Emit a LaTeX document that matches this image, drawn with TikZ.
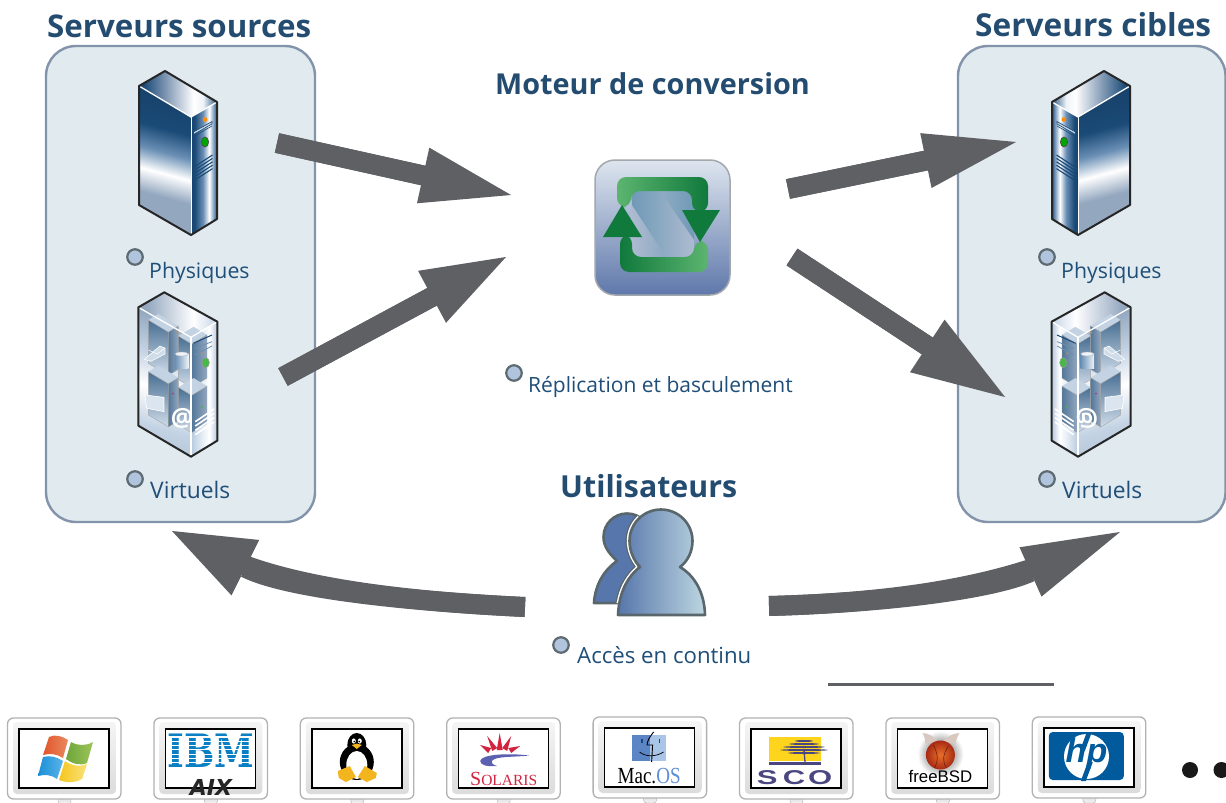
\documentclass[tikz,border=0pt]{standalone}
\usepackage{fontspec}
\setmainfont{Open Sans}
\newfontfamily\serifface{Liberation Serif}
\newfontfamily\arialface{Liberation Sans}
\newfontfamily\heavysans{DejaVu Sans}
\newfontfamily\heavyserif{DejaVu Serif}
\usetikzlibrary{arrows.meta,shapes.geometric}
\definecolor{titlecol}{HTML}{234C70}
\definecolor{labelcol}{HTML}{1F4E78}
\definecolor{panelfill}{HTML}{E1EAEF}
\definecolor{paneledge}{HTML}{8394AA}
\definecolor{arrowgray}{HTML}{5F6064}
\definecolor{navy}{HTML}{1A4A77}
\definecolor{deepnavy}{HTML}{123252}
\definecolor{midblue}{HTML}{6A8FB5}
\definecolor{paleblue}{HTML}{93A7BF}
\definecolor{pale}{HTML}{C3D3E4}
\definecolor{palest}{HTML}{EDF3F8}
\definecolor{engtop}{HTML}{DDE5EE}
\definecolor{engbot}{HTML}{5F78AB}
\definecolor{enge}{HTML}{A3A8AC}
\definecolor{engmid}{HTML}{6F9AB6}
\definecolor{englite}{HTML}{AEBBD0}
\definecolor{eng2}{HTML}{10793C}
\definecolor{eng3}{HTML}{5CB56F}
\definecolor{backp}{HTML}{5776AB}
\definecolor{frontp}{HTML}{BCD6E0}
\definecolor{winr}{HTML}{E2552C}
\definecolor{winrb}{HTML}{E98A5E}
\definecolor{wing}{HTML}{6FA63A}
\definecolor{wingb}{HTML}{9CC45A}
\definecolor{winb}{HTML}{1C8FD8}
\definecolor{winbb}{HTML}{58B4E8}
\definecolor{winy}{HTML}{F5C61E}
\definecolor{winyb}{HTML}{F9E27A}
\definecolor{ibmblue}{HTML}{0A7FC4}
\definecolor{tuxy}{HTML}{F2B51E}
\definecolor{solred}{HTML}{D2243F}
\definecolor{solblue}{HTML}{5C60B0}
\definecolor{macd}{HTML}{5B85C5}
\definecolor{macl}{HTML}{A9C5E8}
\definecolor{macos}{HTML}{5F8FD6}
\definecolor{scoy}{HTML}{FFD41C}
\definecolor{scon}{HTML}{4A4680}
\definecolor{bsdhorn}{HTML}{D9C8C0}
\definecolor{bsdo}{HTML}{E8702A}
\definecolor{bsdr}{HTML}{A82A14}
\definecolor{hpblue}{HTML}{005A9C}
\definecolor{bulletfill}{HTML}{B0C4DE}
\definecolor{bulletedge}{HTML}{5D6A70}
\definecolor{personedge}{HTML}{59666B}
\pgfdeclareverticalshading{srvface}{100bp}{color(0bp)=(paleblue);color(36bp)=(paleblue);color(45bp)=(white);color(53bp)=(midblue);color(62bp)=(navy);color(100bp)=(deepnavy)}
\pgfdeclarehorizontalshading{srvside}{100bp}{color(0bp)=(deepnavy);color(32bp)=(navy);color(48bp)=(midblue);color(60bp)=(white);color(70bp)=(midblue);color(76bp)=(navy);color(100bp)=(navy)}
\pgfdeclarehorizontalshading{srvsideR}{100bp}{color(0bp)=(navy);color(24bp)=(navy);color(30bp)=(midblue);color(40bp)=(white);color(52bp)=(midblue);color(68bp)=(navy);color(100bp)=(deepnavy)}
\pgfdeclarehorizontalshading{srvtop}{100bp}{color(0bp)=(navy);color(28bp)=(navy);color(45bp)=(paleblue);color(60bp)=(white);color(66bp)=(palest);color(76bp)=(navy);color(100bp)=(navy)}
\pgfdeclarehorizontalshading{srvtopR}{100bp}{color(0bp)=(navy);color(24bp)=(navy);color(34bp)=(palest);color(40bp)=(white);color(55bp)=(paleblue);color(72bp)=(navy);color(100bp)=(navy)}
\pgfdeclareverticalshading{vrtface}{100bp}{color(0bp)=(paleblue);color(32bp)=(pale);color(47bp)=(white);color(60bp)=(pale);color(75bp)=(paleblue);color(100bp)=(paleblue)}
\pgfdeclarehorizontalshading{vrtside}{100bp}{color(0bp)=(midblue);color(30bp)=(pale);color(50bp)=(palest);color(60bp)=(white);color(72bp)=(pale);color(100bp)=(midblue)}
\pgfdeclarehorizontalshading{vrtsideR}{100bp}{color(0bp)=(midblue);color(28bp)=(pale);color(40bp)=(white);color(50bp)=(palest);color(70bp)=(pale);color(100bp)=(midblue)}
\pgfdeclarehorizontalshading{vrttop}{100bp}{color(0bp)=(midblue);color(30bp)=(paleblue);color(60bp)=(white);color(75bp)=(pale);color(100bp)=(midblue)}
\pgfdeclarehorizontalshading{vrttopR}{100bp}{color(0bp)=(midblue);color(25bp)=(pale);color(40bp)=(white);color(70bp)=(paleblue);color(100bp)=(midblue)}
\tikzset{
  x=1pt,y=-1pt,
  panelbox/.style={fill=panelfill,draw=paneledge,line width=2.4pt,rounded corners=30pt},
  titletext/.style={text=titlecol,font=\fontsize{#1}{32}\selectfont\bfseries,inner sep=0pt,anchor=base west},
  labeltext/.style={text=labelcol,font=\fontsize{#1}{24}\selectfont,inner sep=0pt,anchor=base west},
  bulletdot/.style={circle,minimum size=15.5pt,inner sep=0pt,fill=bulletfill,draw=bulletedge,line width=2.2pt},
  flowarrow/.style n args={2}{draw=arrowgray,line width=20pt,preaction={draw=arrowgray,line width=20pt,arrows=-,shorten >=50pt},-{Triangle[length=#1pt,width=#2pt,line width=0pt,fill=arrowgray]}},
  srvedge/.style={draw=black!85,line width=2pt,line join=round},
  srvwhite/.style={draw=white,line width=1.3pt},
  miniedge/.style={draw=black!35,line width=.4pt},
  persona/.style={draw=personedge,line width=2.6pt,line join=round},
  logotext/.style={inner sep=0pt},
}
\newcommand{\srvphys}[3]{%
  \shade[shading=srvface,shading angle=#1] (139,86)--(191,117)--(191,235)--(139,205)--cycle;
  \shade[shading=#2] (191,117)--(217,102)--(217,219)--(191,235)--cycle;
  \shade[shading=#3] (139,86)--(165,71)--(217,102)--(191,117)--cycle;
  \draw[srvwhite] (139,86)--(191,117)--(217,102);
  \draw[draw=white,line width=.5pt] (191,117)--(191,235);
  \draw[draw=navy,line width=.6pt,fill=midblue!40] (193.5,132)--(212,121.5)--(212,124)--(193.5,134.5)--cycle;
  \draw[draw=navy,line width=.6pt] (193.5,136.5)--(212,126);
  \fill[orange!90!yellow] (205,119.5) circle (2.3);
  \draw[fill=green!65!black,draw=black!70,line width=.7pt] (205,142) ellipse (3.6 and 5);
  \foreach \k in {0,...,4}{\draw[draw=navy,line width=1.1pt] (194,167+3.4*\k)--(212.5,155+3.4*\k);}
  \draw[srvedge] (139,86)--(165,71)--(217,102)--(217,219)--(191,235)--(139,205)--cycle;
}
\newcommand{\minisrv}[5]{% x y depth side height, in zoomed units
  \shade[top color=navy!80!white,bottom color=pale!80!white] (#1,#2)--++(#3,{#3*0.6})--++(0,#5)--++(-#3,{-#3*0.6})--cycle;
  \shade[left color=navy!75!white,right color=paleblue] ({#1+#3},{#2+#3*0.6})--++(#4,{-#4*0.6})--++(0,#5)--++(-#4,{#4*0.6})--cycle;
  \fill[pale] (#1,#2)--++(#4,{-#4*0.6})--++(#3,{#3*0.6})--++(-#4,{#4*0.6})--cycle;
  \draw[miniedge] (#1,#2)--++(#3,{#3*0.6})--++(0,#5)--++(-#3,{-#3*0.6})--cycle;
  \draw[miniedge] ({#1+#3},{#2+#3*0.6})--++(#4,{-#4*0.6})--++(0,#5)--++(-#4,{#4*0.6});
}
\newcommand{\srvvirt}[4]{%
 \begin{scope}[shift={(110,280)},x=.3333pt,y=-.3333pt]
  \shade[shading=vrtface,shading angle=#1] (85,82)--(243,172)--(243,530)--(85,437)--cycle;
  \shade[shading=#2] (243,172)--(322,125)--(322,482)--(243,530)--cycle;
  \shade[shading=#3] (85,82)--(163,37)--(322,125)--(243,172)--cycle;
  \minisrv{115}{120}{60}{30}{130}
  \minisrv{115}{275}{60}{30}{130}
  \minisrv{205}{168}{40}{46}{130}
  \minisrv{205}{322}{40}{46}{112}
  % cylinder
  \shade[left color=midblue,right color=palest] (195,222)--(195,265)--(235,265)--(235,222)--cycle;
  \draw[draw=black!30,line width=.4pt,fill=palest] (215,222) ellipse (20 and 6);
  % envelope
  \draw[draw=white,line width=.6pt,fill=pale!80!white] (103,238)--(150,198)--(165,205)--(165,222)--(122,244)--cycle;
  \draw[draw=white,line width=.5pt] (115,210)--(142,222)--(165,203);
  % folder
  \draw[draw=white,line width=.6pt,fill=pale!60!white] (105,345)--(162,352)--(162,395)--(110,385)--cycle;
  % front panel detail
  \draw[draw=navy,line width=1pt] (250,190)--(306,165);
  \draw[draw=midblue,line width=.8pt] (255,205)--(306,185);
  \draw[draw=midblue,line width=.8pt] (255,225)--(306,198);
  \draw[fill=green!45!gray,draw=black!40,line width=.5pt] (287,248) ellipse (11 and 15);
  \fill[orange] (203,158) circle (3);
  \fill[orange] (275,220) circle (3);
  \fill[magenta!70!black] (189,341) circle (3);
  \fill[green!40!gray] (277,382) circle (3);
  \foreach \k in {0,...,3}{\draw[draw=white,line width=1.6pt] (256,425+13*\k)--(312,387+13*\k);}
  \node[logotext,text=white,font=\fontsize{25}{25}\selectfont\bfseries,transform shape] (#4) at (216,415) {@};
  \draw[srvwhite] (85,82)--(243,172)--(322,125);
  \draw[srvwhite] (243,172)--(243,530);
  \draw[srvedge] (85,82)--(163,37)--(322,125)--(322,482)--(243,530)--(85,437)--cycle;
 \end{scope}
}
\newcommand{\backperson}{(617,561) .. controls (611,555) and (603.5,548) .. (603.5,537) .. controls (603.5,524) and (614,513.5) .. (627,513.5) .. controls (640,513.5) and (650.5,524) .. (650.5,537) .. controls (650.5,548) and (645,556) .. (637,561) -- (640,603) -- (594,603) .. controls (595,585) and (604,570) .. (617,561) -- cycle}
\newcommand{\frontperson}{(640,567) .. controls (634,561) and (629.5,551) .. (629.5,541) .. controls (629.5,523.6) and (643.6,509.5) .. (661,509.5) .. controls (678.4,509.5) and (692.5,523.6) .. (692.5,541) .. controls (692.5,551) and (688,561) .. (680,567) .. controls (695,576) and (704.5,593) .. (705,615) -- (618,615) .. controls (619,593) and (627,577) .. (640,567) -- cycle}
\begin{document}
\begin{tikzpicture}
\useasboundingbox (0,0) rectangle (1226,803);
\fill[white] (0,0) rectangle (1226,803);
% panels
\draw[panelbox] (46,46) rectangle (315,522);
\draw[panelbox] (958,46) rectangle (1225.5,522);
% titles
\node[titletext=31.3] (tsrc) at (47,37) {Serveurs sources};
\node[titletext=31.6] (tdst) at (975,36) {Serveurs cibles};
\node[titletext=28.8] (tmot) at (495,94) {Moteur de conversion};
\node[titletext=30.3] (tuti) at (560,497) {Utilisateurs};
% arrow ends
\coordinate (a1) at (277,143); \coordinate (b1) at (511,195);
\coordinate (a2) at (283,377); \coordinate (b2) at (506,257);
\coordinate (a3) at (788,189); \coordinate (b3) at (1016,142);
\coordinate (a4) at (792,257); \coordinate (b4) at (1005,397);
\coordinate (a5) at (525,607); \coordinate (b5) at (172,531);
\coordinate (a6) at (769,606); \coordinate (b6) at (1120,532);
\draw[flowarrow={90}{57}] (a1)--(b1);
\draw[flowarrow={84}{59}] (a2)--(b2);
\draw[flowarrow={92}{56}] (a3)--(b3);
\draw[flowarrow={93}{63}] (a4)--(b4);
\draw[flowarrow={82}{62}] (a5) .. controls (420,602) and (290,590) .. (b5);
\draw[flowarrow={98}{54}] (a6) .. controls (880,603) and (990,590) .. (b6);
% servers
\srvphys{-15}{srvside}{srvtop}
\srvvirt{-15}{vrtside}{vrttop}{atL}
\begin{scope}[shift={(1269,0)},xscale=-1]
\srvphys{15}{srvsideR}{srvtopR}
\srvvirt{15}{vrtsideR}{vrttopR}{atR}
\end{scope}
% labels
\node[bulletdot] (b-phL) at (135,257) {};
\node[labeltext=21.3] (l-phL) at (149,278) {Physiques};
\node[bulletdot] (b-viL) at (135,479) {};
\node[labeltext=22.8] (l-viL) at (150,498) {Virtuels};
\node[bulletdot] (b-phR) at (1047,257) {};
\node[labeltext=21.3] (l-phR) at (1061,278) {Physiques};
\node[bulletdot] (b-viR) at (1047,479) {};
\node[labeltext=22.8] (l-viR) at (1062,498) {Virtuels};
\node[bulletdot] (b-rep) at (514,373) {};
\node[labeltext=21] (l-rep) at (528,392) {Réplication et basculement};
\node[bulletdot] (b-acc) at (561,645) {};
\node[labeltext=22.2] (l-acc) at (577,663) {Accès en continu};
% engine icon
\shade[top color=engtop,bottom color=engbot,draw=enge,line width=1.5pt,rounded corners=20pt] (595,160) rectangle (730,295);
\shade[shading angle=45,left color=englite,right color=engmid] (631,191) rectangle (694,257);
\shade[shading angle=-45,left color=engmid,right color=englite] (632,191)--(660,191)--(694,240)--(694,257)--(666,257)--(632,205)--cycle;
\shade[left color=eng3,right color=eng2,rounded corners=9pt] (617,207)--(617,177)--(708,177)--(708,212)--(692,212)--(692,191)--(631,191)--(631,207)--cycle;
\shade[left color=eng2,right color=eng3,rounded corners=9pt] (620,235)--(620,272)--(708,272)--(708,241)--(694,241)--(694,257)--(632,257)--(632,235)--cycle;
\fill[eng2,line join=round] (622,205)--(642,237)--(603,237)--cycle;
\fill[eng2,line join=round] (700,242)--(720,210)--(682,210)--cycle;
% users
\draw[persona,fill=backp] \backperson;
\begin{scope}
\clip \backperson;
\draw[draw=personedge,line width=8pt,line join=round] \frontperson;
\draw[draw=white,line width=5.4pt,line join=round] \frontperson;
\end{scope}
\shade[left color=backp,right color=frontp,persona] \frontperson;
% monitors
\foreach \i/\dy in {0/0,1/0,2/0,3/0,4/-1,5/0,6/0,7/-1}{
 \begin{scope}[shift={(146.4*\i,\dy)}]
  \shade[top color=black!15,bottom color=black!5,draw=black!30,rounded corners=3pt] (58,794) rectangle (71,804);
  \draw[fill=white,draw=black!30,line width=1.3pt,rounded corners=6pt] (7.5,718) rectangle (121,799);
  \shade[top color=black!4,bottom color=black!14,rounded corners=4pt] (13,722) rectangle (116,794);
  \draw[fill=white,draw=black,line width=1.4pt] (19,729) rectangle (109,788);
 \end{scope}
}
% windows
\begin{scope}
\shade[left color=winr,right color=winrb] (49,737) .. controls (55,734) and (62,736) .. (68,740) -- (63,758) .. controls (57,754) and (50,753) .. (43,755) -- cycle;
\shade[left color=wing,right color=wingb] (71,742) .. controls (78,746) and (86,746) .. (93,742) -- (87,763) .. controls (80,766) and (73,764) .. (66,759) -- cycle;
\shade[left color=winb,right color=winbb] (43,757) .. controls (50,755) and (57,757) .. (63,761) -- (57,779) .. controls (52,775) and (45,774) .. (38,776) -- cycle;
\shade[left color=winy,right color=winyb] (65,761) .. controls (72,766) and (80,767) .. (87,764) -- (82,779) .. controls (75,783) and (66,783) .. (59,780) -- cycle;
\end{scope}
% IBM AIX
\begin{scope}[shift={(146.4,0)}]
\node[logotext,text=ibmblue,font=\heavyserif\bfseries\fontsize{46}{46}\selectfont,xscale=.78,anchor=base] (ibm) at (64.6,767) {IBM};
\foreach \k in {0,...,6}{\fill[white] (20,736.4+4.3*\k) rectangle (108,737.5+4.3*\k);}
\node[logotext,text=black!85,font=\heavysans\bfseries\itshape\fontsize{22}{22}\selectfont,anchor=base] (aix) at (64.5,795) {AIX};
\end{scope}
% Tux
\begin{scope}[shift={(292.8,0)}]
\fill[black] (64,745) ellipse (9.5 and 12);
\fill[black] (64,762) ellipse (17 and 18);
\fill[white] (64,765) ellipse (10.5 and 14);
\fill[white] (61,741) ellipse (2 and 2.6);
\fill[white] (67,741) ellipse (2 and 2.6);
\fill[black] (61.5,741.5) circle (.9);
\fill[black] (66.5,741.5) circle (.9);
\fill[tuxy] (59,745)--(64,743.5)--(69,745)--(64,749)--cycle;
\fill[tuxy] (45,771)--(57,766)--(63,777)--(53,782)--(46,778)--cycle;
\fill[tuxy] (84,773)--(72,766)--(65,777)--(74,782)--(83,778)--cycle;
\end{scope}
% Solaris
\begin{scope}[shift={(439.2,0)}]
\foreach \tx/\ty/\ax/\ay/\bx/\by in {41/745/49/753/52/748, 48/736/53/751/58/748, 60.5/733/57.5/750/63.5/750, 72/736/63/748/68/751, 81/746/69/748/72/753}{\fill[solred] (\tx,\ty)--(\ax,\ay)--(\bx,\by)--cycle;}
\fill[solblue] (90,755.5) .. controls (70,753) and (42,754) .. (41,761) .. controls (41,765) and (48,767) .. (58,766) .. controls (50,764) and (50,759) .. (62,757.5) .. controls (70,756.5) and (82,756.5) .. (90,755.5) -- cycle;
\node[logotext,text=solred,anchor=base,font=\serifface] (sol) at (64.5,785) {\fontsize{20}{20}\selectfont S\fontsize{15.5}{20}\selectfont OLARIS};
\end{scope}
% Mac OS
\begin{scope}[shift={(585.6,-1)}]
\fill[macd] (46,736) rectangle (64,762);
\fill[macl] (64,736) rectangle (80.4,762);
\draw[black,line width=.9pt] (68,733) .. controls (64,738) and (61.5,742) .. (61.5,746) -- (67,746) -- (66,763);
\draw[black,line width=.7pt] (54,753) .. controls (60,758) and (70,758) .. (78,753);
\draw[navy,line width=1.2pt] (56.3,740)--(56.3,744) (73.5,740)--(73.5,744);
\node[logotext,anchor=base,font=\serifface\fontsize{23}{23}\selectfont,xscale=.83] (mac) at (63.5,784) {\textcolor{black}{Mac.}\textcolor{macos}{OS}};
\end{scope}
% SCO
\begin{scope}[shift={(732,0)}]
\fill[scoy] (36.5,737) rectangle (89,761);
\fill[scon] (36.5,762) rectangle (89,765);
\foreach \yy/\rxv in {741/9,744/15,747/21,750/24,753/16}{\fill[scon] (72,\yy) ellipse [x radius=\rxv, y radius=1];}
\draw[scon,line width=1.3pt] (72,750)--(73,762);
\node[logotext,text=scon,font=\arialface\bfseries\fontsize{20}{20}\selectfont,anchor=base,xscale=1.55] (sco) at (62.5,784.5) {S\hspace{3.5pt}C\hspace{1.8pt}O};
\end{scope}
% FreeBSD
\begin{scope}[shift={(878.4,0)}]
\shade[inner color=black!75,outer color=white] (62,754) circle (23);
\fill[bsdhorn] (47,744) .. controls (47,738) and (45,735) .. (44,733) .. controls (50,733) and (56,737) .. (59,741) -- cycle;
\fill[bsdhorn] (77,744) .. controls (78,738) and (80,735) .. (81,733) .. controls (75,733) and (68,737) .. (65,741) -- cycle;
\shade[inner color=bsdo,outer color=bsdr] (62,755) circle (14.5);
\draw[bsdr!60!black,line width=.5pt] (55,745) .. controls (60,755) and (60,762) .. (56,768) (70,746) .. controls (64,755) and (64,762) .. (68,768);
\node[logotext,anchor=base,font=\arialface\fontsize{16.8}{17}\selectfont,text=black] (bsd) at (62,782) {freeBSD};
\end{scope}
% HP
\begin{scope}[shift={(1024.8,-1)}]
\fill[hpblue,rounded corners=4pt] (24,733) rectangle (99,781);
\fill[white] (61.7,757.5) circle (22.5);
\fill[hpblue] (62,733)--(67,733)--(60,752)--(55,752)--cycle;
\fill[hpblue] (63,763)--(68,763)--(61,782)--(56,782)--cycle;
\node[logotext,text=hpblue,font=\arialface\bfseries\itshape\fontsize{34}{34}\selectfont] (hp) at (61.7,755) {hp};
\end{scope}
% line and dots
\coordinate (r1) at (828,684); \coordinate (r2) at (1054,684);
\draw[arrowgray,line width=3pt] (r1)--(r2);
\fill[black!90] (1190,770) circle (8);
\fill[black!90] (1221.5,770) circle (8);
\end{tikzpicture}
\end{document}
